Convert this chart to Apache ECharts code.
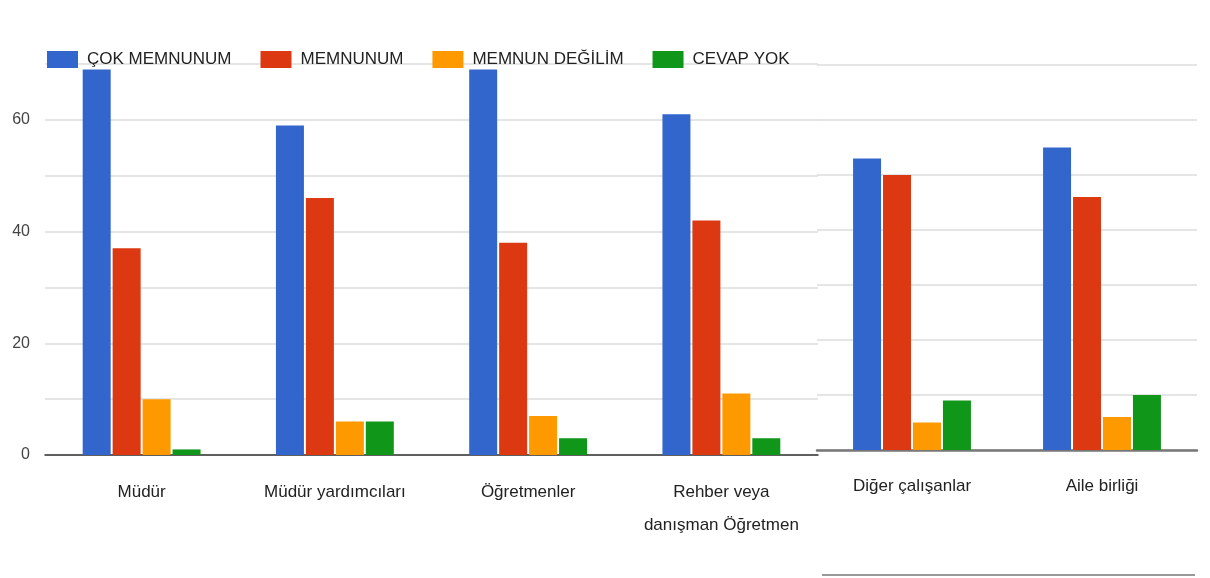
<!DOCTYPE html>
<html>
<head>
<meta charset="utf-8">
<script src="https://cdn.jsdelivr.net/npm/echarts@6/dist/echarts.min.js"></script>
<style>
  html, body { margin: 0; padding: 0; background: #fff; }
  #chart { width: 1210px; height: 578px; }
</style>
</head>
<body>
<div id="chart"></div>
<script>
// Survey answers per school group, split over two panels
const categoriesLeft = ['Müdür', 'Müdür yardımcıları', 'Öğretmenler', 'Rehber veya\ndanışman Öğretmen'];
const categoriesRight = ['Diğer çalışanlar', 'Aile birliği'];

const seriesNames = ['ÇOK MEMNUNUM', 'MEMNUNUM', 'MEMNUN DEĞİLİM', 'CEVAP YOK'];
const seriesColors = ['#3366cc', '#dc3912', '#ff9900', '#109618'];

// values in the order: left categories, then right categories
const cokMemnunum   = [69, 59, 69, 61, 53, 55];
const memnunum      = [37, 46, 38, 42, 50, 46];
const memnunDegilim = [10, 6, 7, 11, 5, 6];
const cevapYok      = [1, 6, 3, 3, 9, 10];

const yTicks = [0, 20, 40, 60];

const allValues = [cokMemnunum, memnunum, memnunDegilim, cevapYok];
const nLeft = categoriesLeft.length;

const font = '"Liberation Sans", Arial, sans-serif';

const series = [];
allValues.forEach((vals, i) => {
  series.push({
    name: seriesNames[i], type: 'bar', xAxisIndex: 0, yAxisIndex: 0,
    data: vals.slice(0, nLeft), barWidth: 28, barGap: '7%',
    itemStyle: { color: seriesColors[i] }
  });
  series.push({
    name: seriesNames[i], type: 'bar', xAxisIndex: 1, yAxisIndex: 1,
    data: vals.slice(nLeft), barWidth: 28, barGap: '7%',
    itemStyle: { color: seriesColors[i] }
  });
});

const chart = echarts.init(document.getElementById('chart'), null, { renderer: 'canvas' });
chart.setOption({
  animation: false,
  backgroundColor: '#ffffff',
  textStyle: { fontFamily: font },
  legend: {
    data: seriesNames,
    left: 47, top: 51, padding: 0,
    itemWidth: 31, itemHeight: 17, itemGap: 29,
    icon: 'rect',
    textStyle: { fontSize: 17, color: '#222', fontFamily: font, padding: [0, 0, 0, 4] }
  },
  grid: [
    { left: 45, right: 392, top: 64, bottom: 123 },
    { left: 817, right: 13, top: 65, bottom: 128 }
  ],
  xAxis: [
    {
      type: 'category', gridIndex: 0, data: categoriesLeft,
      axisLine: { lineStyle: { color: '#333', width: 1.5 } },
      axisTick: { show: false },
      axisLabel: { fontSize: 17, color: '#222', margin: 21, lineHeight: 33, interval: 0, fontFamily: font }
    },
    {
      type: 'category', gridIndex: 1, data: categoriesRight,
      axisLine: { lineStyle: { color: '#777', width: 2.5 } },
      axisTick: { show: false },
      axisLabel: { fontSize: 17, color: '#222', margin: 28, interval: 0, fontFamily: font }
    }
  ],
  yAxis: [
    {
      type: 'value', gridIndex: 0, min: 0, max: 70, interval: 10,
      axisLine: { show: false }, axisTick: { show: false },
      axisLabel: {
        fontSize: 16, color: '#444', margin: 15, fontFamily: font,
        formatter: v => (yTicks.indexOf(v) >= 0 ? String(v) : '')
      },
      splitLine: { lineStyle: { color: '#dcdcdc', width: 1.5 } }
    },
    {
      type: 'value', gridIndex: 1, min: 0, max: 70, interval: 10,
      axisLine: { show: false }, axisTick: { show: false },
      axisLabel: { show: false },
      splitLine: { lineStyle: { color: '#dcdcdc', width: 1.5 } }
    }
  ],
  graphic: [
    {
      type: 'line', shape: { x1: 822, y1: 575, x2: 1195, y2: 575 },
      style: { stroke: '#999', lineWidth: 2 }, silent: true
    }
  ],
  series: series
});
</script>
</body>
</html>
